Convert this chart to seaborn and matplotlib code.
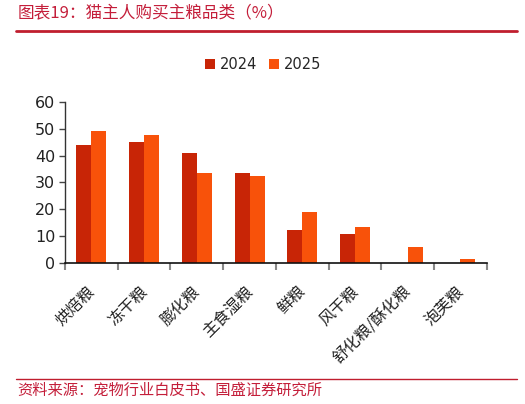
import matplotlib
matplotlib.use("Agg")
import matplotlib.pyplot as plt
import matplotlib.transforms as mtransforms
import seaborn as sns
import pandas as pd
from matplotlib.lines import Line2D

categories = ["烘焙粮", "冻干粮", "膨化粮", "主食湿粮", "鲜粮", "风干粮", "舒化粮/酥化粮", "泡芙粮"]
values_2024 = [44.0, 45.1, 41.0, 33.6, 12.4, 10.9, None, None]
values_2025 = [49.2, 47.8, 33.6, 32.5, 18.8, 13.5, 6.1, 1.6]
series = ["2024", "2025"]
yticks = [0, 10, 20, 30, 40, 50, 60]

rows = []
for c, a, b in zip(categories, values_2024, values_2025):
    rows.append({"cat": c, "year": "2024", "val": a})
    rows.append({"cat": c, "year": "2025", "val": b})
df = pd.DataFrame(rows)

sns.set_theme(style="white")
plt.rcParams['font.family'] = ['Noto Sans CJK SC', 'DejaVu Sans']

fig = plt.figure(figsize=(5.25, 4.04), dpi=100)
ax = fig.add_axes([0.124, 0.349, 0.803, 0.399])

palette = {"2024": "#C82506", "2025": "#F8520A"}
sns.barplot(data=df, x="cat", y="val", hue="year", order=categories, hue_order=series,
            palette=palette, width=0.57, saturation=1, ax=ax, linewidth=0, errorbar=None)

ax.set_ylim(0, 60)
ax.set_xlim(-0.5, len(categories) - 0.5)
ax.set_yticks(yticks)
ax.set_yticklabels([str(t) for t in yticks], fontsize=11.5, family='DejaVu Sans', color='#222222')
ax.set_xlabel("")
ax.set_ylabel("")
ax.set_xticks(range(len(categories)))
ax.set_xticklabels(categories, rotation=45, ha='right', rotation_mode='anchor',
                   fontsize=11.5, color='#222222')
ax.tick_params(axis='x', length=0, pad=10)
ax.tick_params(axis='y', length=4, width=1, color='#444444', direction='out', pad=3, left=True)
offset = mtransforms.ScaledTranslation(-5 / 100, -6 / 100, fig.dpi_scale_trans)
for lbl in ax.get_xticklabels():
    lbl.set_transform(lbl.get_transform() + offset)

# minor ticks at category boundaries
ax.set_xticks([i - 0.5 for i in range(len(categories) + 1)], minor=True)
ax.tick_params(axis='x', which='minor', length=5, width=1.5, color='#888888', direction='out', bottom=True)

for s in ["top", "right"]:
    ax.spines[s].set_visible(False)
ax.spines["left"].set_color("#333333")
ax.spines["bottom"].set_color("#111111")
ax.spines["left"].set_linewidth(1)
ax.spines["bottom"].set_linewidth(1.2)

leg = ax.legend(loc='center', bbox_to_anchor=(0.47, 1.23), ncol=2, frameon=False,
                handlelength=0.65, handleheight=0.65, handletextpad=0.35, columnspacing=0.8,
                prop={'family': 'DejaVu Sans', 'size': 10.5})

red = "#C41E3A"
fig.text(0.033, 0.965, "图表19：猫主人购买主粮品类（%）", fontsize=12, color=red, style='italic',
         va='center', ha='left')
fig.add_artist(Line2D([0.03, 0.985], [0.923, 0.923], color="#C01E2E", linewidth=2))
fig.add_artist(Line2D([0.03, 0.985], [0.062, 0.062], color="#C01E2E", linewidth=1))
fig.text(0.033, 0.035, "资料来源：宠物行业白皮书、国盛证券研究所", fontsize=11, color=red, style='italic',
         va='center', ha='left')

fig.savefig("out.png", dpi=100, facecolor='white')
